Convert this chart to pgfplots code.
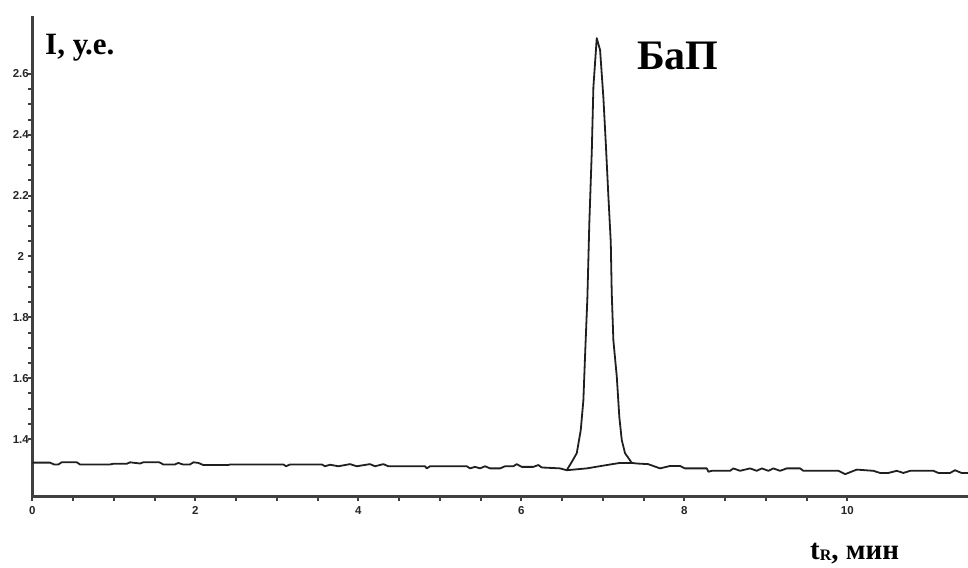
\documentclass[border=0pt]{standalone}
\usepackage{pgfplots}
\pgfplotsset{compat=1.18}
\usepackage{fontspec}
\setmainfont{Liberation Serif}
\newfontfamily\ticksf{Liberation Sans}
\begin{document}
\begin{tikzpicture}
\useasboundingbox (0pt,0pt) rectangle (968pt,567pt);
\begin{axis}[
  at={(32.3pt,70.3pt)}, anchor=south west,
  scale only axis, width=935.7pt, height=480.7pt,
  xmin=0, xmax=11.48, ymin=1.211, ymax=2.79,
  axis x line=bottom, axis y line=left,
  axis line style={-, line width=2.6pt, black!75},
  tick align=outside,
  major tick length=4.5pt, minor tick length=4.5pt,
  every tick/.style={line width=2pt, black!75},
  xtick={0,2,4,6,8,10},
  ytick={1.4,1.6,1.8,2,2.2,2.4,2.6},
  minor x tick num=3, minor y tick num=3,
  ticklabel style={font=\ticksf\bfseries\fontsize{11.5}{11.5}\selectfont, text=black!85},
  yticklabel style={inner sep=0pt, anchor=center, xshift=-7pt},
  xticklabel style={inner sep=0pt, yshift=-5pt},
  /pgf/number format/assume math mode=true,
  clip=false,
]
% main trace
\addplot[line width=1.8pt, black!88, line join=round] coordinates {
(0,1.323) (0.217,1.323) (0.266,1.317) (0.32,1.317) (0.36,1.324) (0.545,1.324)
(0.585,1.317) (0.953,1.317) (0.994,1.319) (1.158,1.319) (1.199,1.324) (1.321,1.320)
(1.362,1.324) (1.558,1.324) (1.607,1.317) (1.751,1.317) (1.791,1.322) (1.845,1.317)
(1.935,1.317) (1.976,1.324) (2.037,1.322) (2.098,1.315) (2.405,1.315) (2.426,1.317)
(3.08,1.317) (3.113,1.311) (3.162,1.317) (3.551,1.317) (3.591,1.311) (3.653,1.316)
(3.755,1.311) (3.898,1.318) (3.98,1.311) (4.143,1.318) (4.205,1.311) (4.307,1.318)
(4.368,1.311) (4.818,1.311) (4.839,1.304) (4.88,1.311) (5.33,1.311) (5.371,1.304)
(5.432,1.309) (5.493,1.304) (5.555,1.311) (5.616,1.304) (5.739,1.304) (5.8,1.311)
(5.902,1.311) (5.943,1.318) (6.005,1.309) (6.147,1.309) (6.209,1.315) (6.25,1.307)
(6.475,1.304) (6.557,1.298)
(6.618,1.325) (6.680,1.354) (6.729,1.430) (6.761,1.528) (6.782,1.676) (6.810,1.863)
(6.834,2.110) (6.864,2.344) (6.884,2.557) (6.925,2.717) (6.966,2.678) (7.006,2.524)
(7.036,2.372) (7.067,2.202) (7.097,2.048) (7.109,1.880) (7.129,1.725) (7.171,1.605)
(7.202,1.473) (7.232,1.397) (7.272,1.354) (7.355,1.322)
(7.416,1.320) (7.555,1.318) (7.702,1.304) (7.825,1.312) (7.947,1.312) (8.008,1.304)
(8.275,1.304) (8.295,1.293) (8.336,1.296) (8.561,1.296) (8.601,1.304) (8.683,1.296)
(8.806,1.304) (8.888,1.296) (8.95,1.304) (9.031,1.296) (9.092,1.304) (9.174,1.296)
(9.256,1.304) (9.42,1.304) (9.46,1.296) (9.89,1.296) (9.972,1.285) (10.115,1.300)
(10.319,1.296) (10.401,1.289) (10.503,1.289) (10.606,1.296) (10.687,1.289) (10.77,1.296)
(11.055,1.296) (11.117,1.289) (11.26,1.289) (11.32,1.298) (11.40,1.289) (11.48,1.289)
};
% baseline under the peak
\addplot[line width=1.8pt, black!88, line join=round] coordinates {
(6.557,1.298) (6.802,1.304) (7.048,1.315) (7.211,1.322) (7.355,1.322)
};
\end{axis}
\node[anchor=base west, inner sep=0pt, font=\bfseries\fontsize{31}{33}\selectfont] at (45pt,512pt) {I, у.е.};
\node[anchor=base west, inner sep=0pt, font=\bfseries\fontsize{42}{44}\selectfont] at (637pt,497pt) {БаП};
\node[anchor=base west, inner sep=0pt, font=\bfseries\fontsize{29}{31}\selectfont] at (810pt,8pt) {t\raisebox{-1pt}{\fontsize{16}{16}\selectfont R}, мин};
\end{tikzpicture}
\end{document}
